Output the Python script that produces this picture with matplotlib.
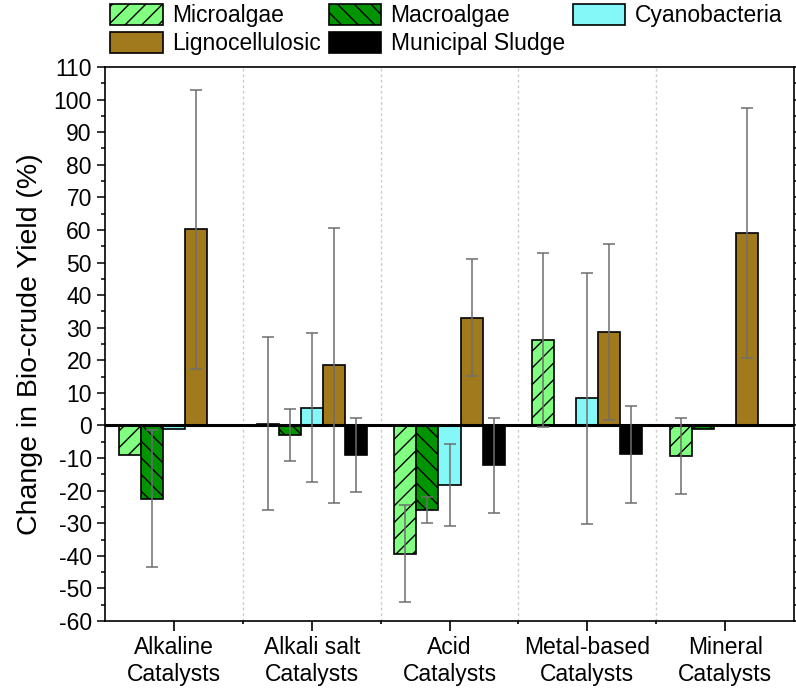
import numpy as np
import matplotlib
matplotlib.use("Agg")
import matplotlib.pyplot as plt
from matplotlib.ticker import MultipleLocator, FixedLocator

plt.rcParams['font.family'] = ['Liberation Sans', 'DejaVu Sans']
plt.rcParams['hatch.linewidth'] = 1.0
plt.rcParams['axes.unicode_minus'] = False

nan = np.nan

# categories along the x axis
categories = ["Alkaline\nCatalysts", "Alkali salt\nCatalysts", "Acid\nCatalysts",
              "Metal-based\nCatalysts", "Mineral\nCatalysts"]

# values (change in yield, %), nan = no data
micro = [-9.0, 0.6, -39.3, 26.2, -9.4]
micro_err = [nan, 26.4, 15.0, 26.8, 11.6]
macro = [-22.5, -2.8, -26.0, nan, -1.0]
macro_err = [21.0, 8.0, 4.0, nan, nan]
cyano = [-1.2, 5.5, -18.3, 8.3, nan]
cyano_err = [nan, 22.8, 12.7, 38.6, nan]
ligno = [60.2, 18.5, 33.1, 28.7, 59.1]
ligno_err = [42.8, 42.2, 18.0, 26.9, 38.3]
sludge = [nan, -9.0, -12.2, -8.9, nan]
sludge_err = [nan, 11.4, 14.6, 14.85, nan]

series = [
    ("Microalgae", micro, micro_err, '#80FF80', '//'),
    ("Macroalgae", macro, macro_err, '#009400', '\\\\'),
    ("Cyanobacteria", cyano, cyano_err, '#84F8F8', None),
    ("Lignocellulosic", ligno, ligno_err, '#A27A1E', None),
    ("Municipal Sludge", sludge, sludge_err, '#000000', None),
]

fig = plt.figure(figsize=(7.96, 6.94), dpi=100)
ax = fig.add_axes([105 / 796, 1 - 621 / 694, 689 / 796, 554 / 694])

x = np.arange(1, len(categories) + 1)
width = 0.16

handles = []
for i, (name, vals, errs, color, hatch) in enumerate(series):
    pos = x + (i - 2) * width
    b = ax.bar(pos, vals, width, color=color, edgecolor='black', linewidth=1.2,
               hatch=hatch, label=name, zorder=2)
    handles.append(b)
    eb = ax.errorbar(pos, vals, yerr=errs, fmt='none', ecolor='#6e6e6e',
                     elinewidth=1.1, capsize=4, capthick=1.1, zorder=4)
    for cap in eb[1]:
        cap.set_color('#2a2a2a')

# zero line
ax.axhline(0, color='black', linewidth=2.2, zorder=3)

# dotted separators between groups
for s in x[:-1] + 0.5:
    ax.axvline(s, color='#cccccc', linestyle=(0, (2, 2)), linewidth=1, zorder=1)

ax.set_xlim(0.5, 5.5)
ax.set_ylim(-60, 110)
ax.set_xticks(x)
ax.set_xticklabels(categories, fontsize=16.5)
ax.xaxis.set_minor_locator(FixedLocator(x[:-1] + 0.5))
ax.yaxis.set_major_locator(MultipleLocator(10))
ax.yaxis.set_minor_locator(MultipleLocator(5))
ax.tick_params(axis='y', which='major', direction='out', length=6, width=1.1,
               labelsize=16.5, right=True)
ax.tick_params(axis='y', which='minor', direction='out', length=3, width=1.1, right=True)
ax.tick_params(axis='x', which='major', direction='out', length=7, width=1.2, pad=4)
ax.tick_params(axis='x', which='minor', direction='out', length=2.5, width=1.2)
for sp in ax.spines.values():
    sp.set_linewidth(1.2)

ax.set_ylabel("Change in Bio-crude Yield (%)", fontsize=20.5)
ax.yaxis.set_label_coords(-0.09, 0.5)

# legend filled row by row: reorder for the column-major layout
order = [0, 3, 1, 4, 2]
fig.legend([handles[k] for k in order], [series[k][0] for k in order],
           loc='upper left', bbox_to_anchor=(110 / 796, 1 - 4 / 694), ncol=3,
           frameon=False, fontsize=16.5, handlelength=2.3, handleheight=1.05,
           handletextpad=0.4, columnspacing=0.35, labelspacing=0.2,
           borderpad=0, borderaxespad=0)

fig.savefig("out.png", dpi=100)
